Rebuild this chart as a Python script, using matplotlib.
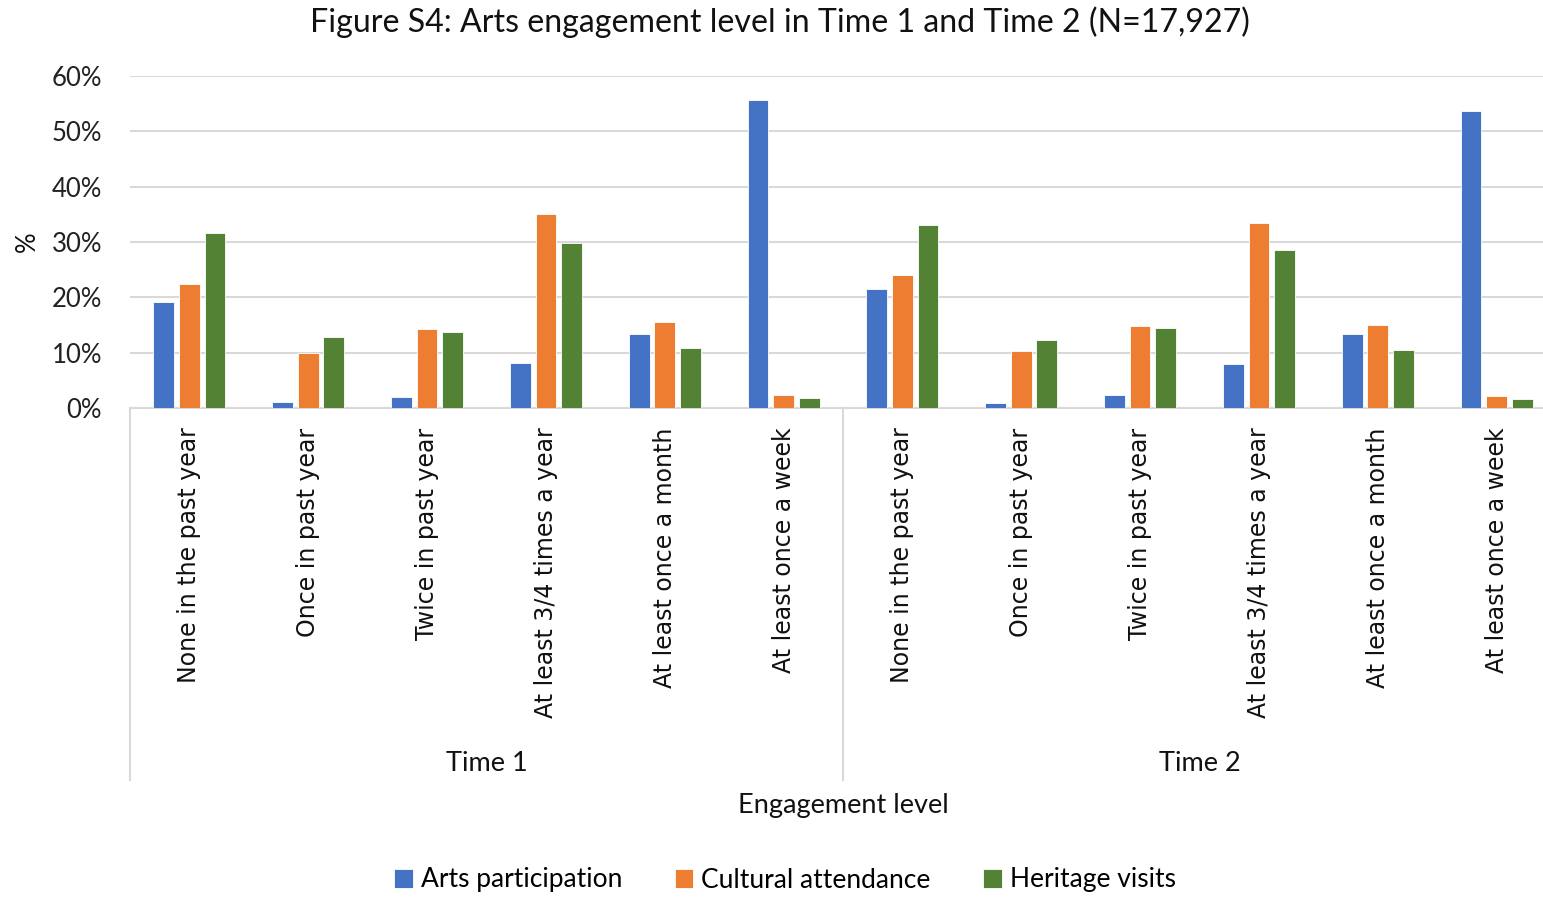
import numpy as np
import matplotlib
matplotlib.use('Agg')
import matplotlib.pyplot as plt
from matplotlib.ticker import MultipleLocator, PercentFormatter

# engagement levels, repeated for each time point
levels = ['None in the past year', 'Once in past year', 'Twice in past year',
          'At least 3/4 times a year', 'At least once a month', 'At least once a week']
times = ['Time 1', 'Time 2']

# percentages, Time 1 then Time 2
arts = [19.2, 1.1, 2.0, 8.1, 13.4, 55.7,
        21.5, 0.9, 2.3, 8.0, 13.4, 53.7]
culture = [22.4, 9.9, 14.3, 35.1, 15.6, 2.4,
           24.1, 10.3, 14.8, 33.5, 15.0, 2.2]
heritage = [31.6, 12.8, 13.7, 29.8, 10.8, 1.8,
            33.1, 12.3, 14.5, 28.6, 10.5, 1.6]

series = ['Arts participation', 'Cultural attendance', 'Heritage visits']
colors = ['#4472C4', '#ED7D31', '#548235']

W, H = 1543, 898
fig = plt.figure(figsize=(W / 100, H / 100), dpi=100)
# plot area runs slightly past the right edge of the canvas
ax = fig.add_axes([130 / W, 1 - 408 / H, 1426 / W, (408 - 76) / H])

labels = levels * len(times)
x = np.arange(len(labels))
bw = 0.175
step = 0.215
for k, (vals, c) in enumerate(zip([arts, culture, heritage], colors)):
    ax.bar(x + (k - 1) * step, vals, bw, color=c, edgecolor='white', linewidth=0.6,
           label=series[k], zorder=3)

ax.set_xlim(-0.5, len(labels) - 0.5)
ax.set_ylim(0, 60)
ax.yaxis.set_major_locator(MultipleLocator(10))
ax.yaxis.set_major_formatter(PercentFormatter(decimals=0))
ax.grid(axis='y', color='#d9d9d9', linewidth=1.5, zorder=0)
for s in ['top', 'right', 'left']:
    ax.spines[s].set_visible(False)
ax.spines['bottom'].set_color('#d9d9d9')
ax.spines['bottom'].set_linewidth(1.5)
ax.tick_params(axis='y', length=0, pad=20, labelsize=18.5, labelcolor='#222222')
ax.set_xticks(x)
ax.set_xticklabels(labels, rotation=90, fontsize=17, family='DejaVu Sans', color='#111111')
ax.tick_params(axis='x', length=0, pad=14)
for t in ax.get_yticklabels():
    t.set_family('Lato')

# group separators below the axis
trans = ax.get_xaxis_transform()
for xs in [-0.5, 5.5, 11.5]:
    ax.plot([xs, xs], [0, -1.12], color='#d9d9d9', linewidth=1.5, transform=trans, clip_on=False)
for g, name in enumerate(times):
    ax.text(g * 6 + 2.5, -1.07, name, transform=trans, ha='center', va='center',
            fontsize=19.5, family='Lato', color='#111111')

fig.text(843 / W, 1 - 805 / H, 'Engagement level', ha='center', va='center',
         fontsize=19.5, family='Lato', color='#111111')
fig.text(27 / W, 1 - 242 / H, '%', ha='center', va='center', rotation=90,
         fontsize=18.5, family='Lato', color='#111111')
fig.text(780 / W, 1 - 22 / H, 'Figure S4: Arts engagement level in Time 1 and Time 2 (N=17,927)',
         ha='center', va='center', fontsize=23.1, family='Lato', color='#111111')

handles, hl = ax.get_legend_handles_labels()
fig.legend(handles, hl, loc='center', bbox_to_anchor=(785 / W, 1 - 880 / H), ncol=3,
           frameon=False, prop={'family': 'Lato', 'size': 19}, handlelength=0.7,
           handleheight=0.7, handletextpad=0.3, columnspacing=2.0)

fig.savefig('out.png', dpi=100)
